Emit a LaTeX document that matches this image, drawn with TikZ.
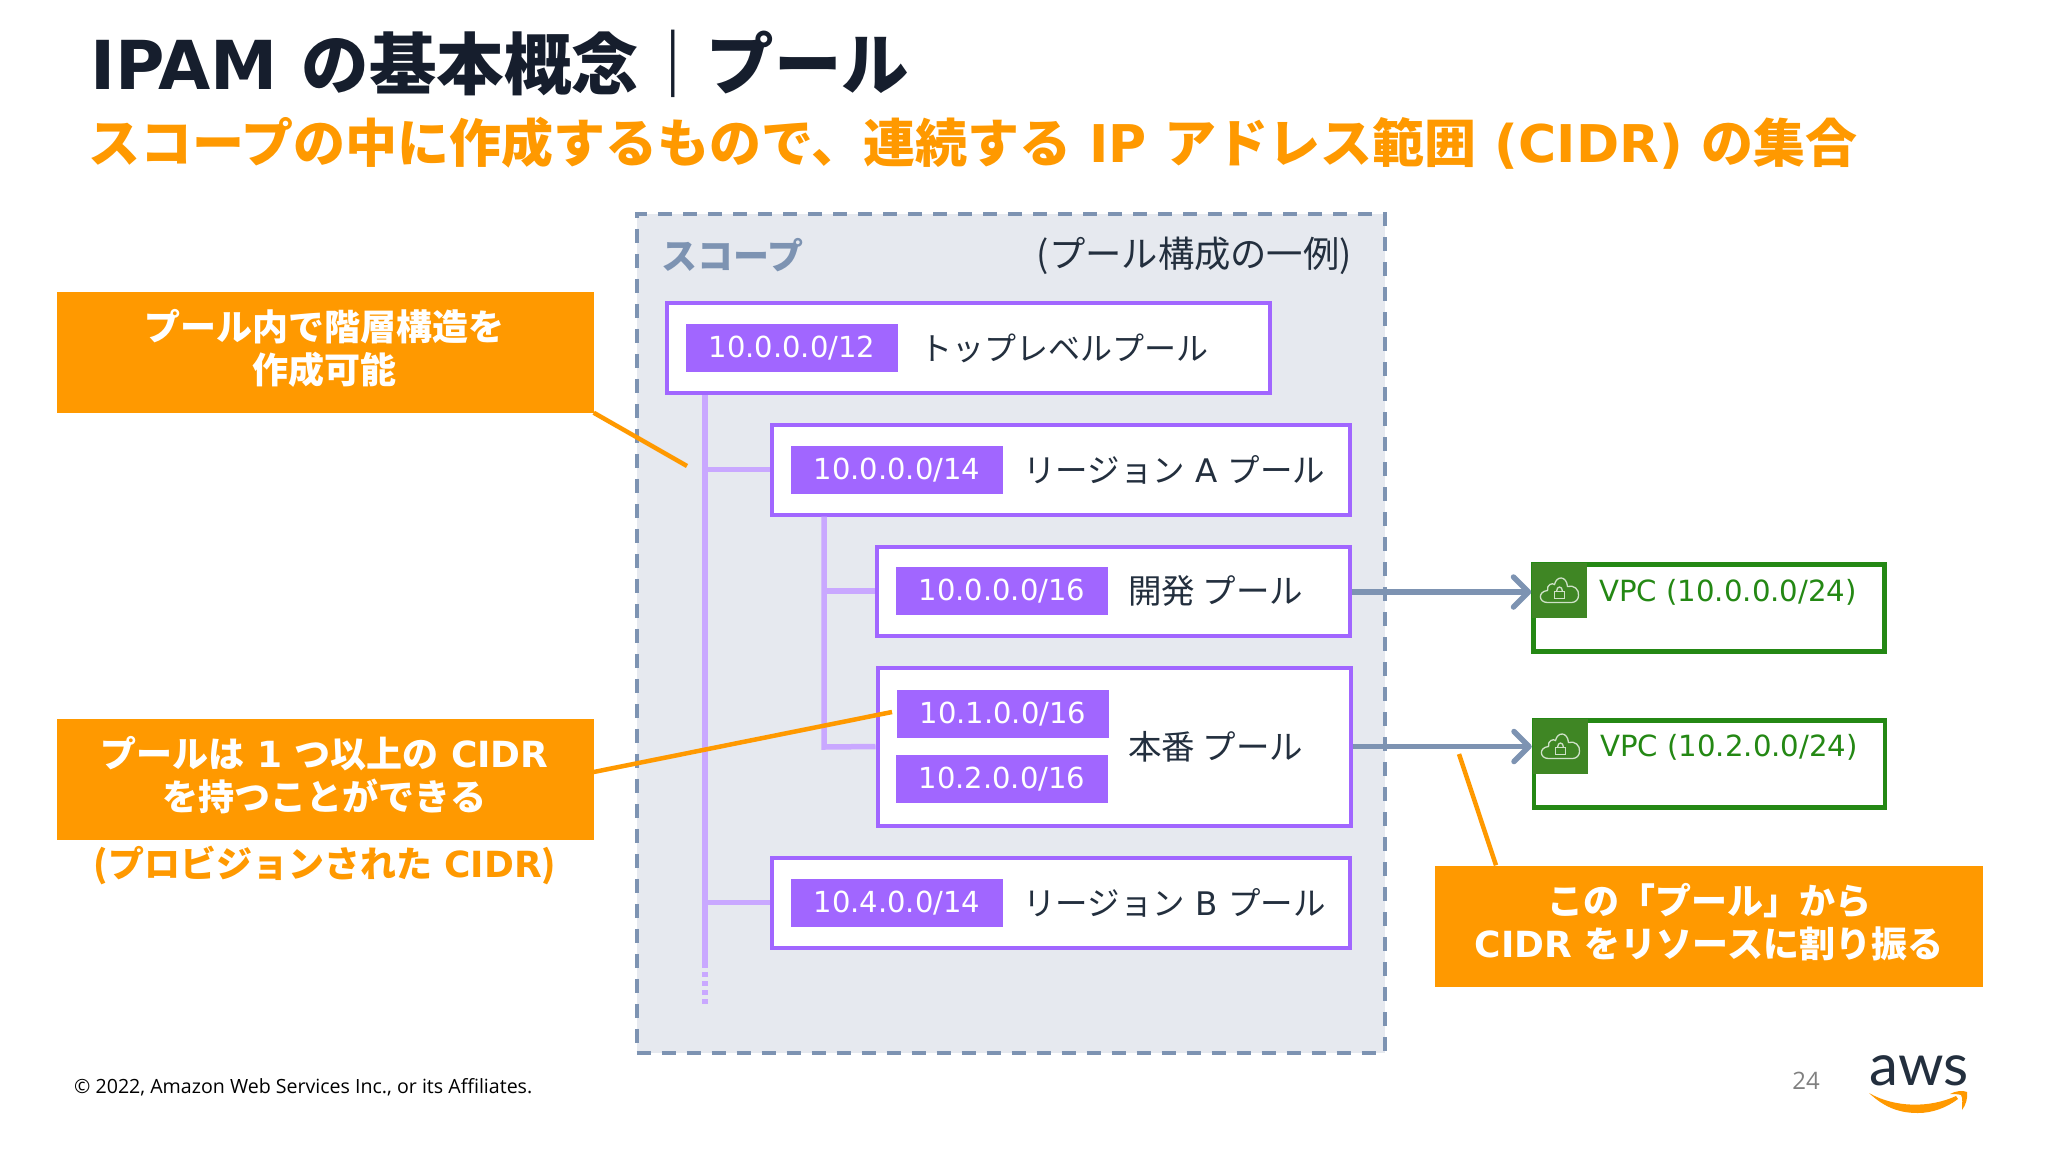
\documentclass[tikz,border=0pt]{standalone}
\usepackage{fontspec}
\usetikzlibrary{arrows.meta}
\setmainfont{DejaVu Sans}
\newfontfamily\jp{Noto Sans CJK JP}
\newfontfamily\foot{Open Sans}
\newfontfamily\logo{Lato}
\newcommand{\ja}[1]{{\jp #1}}

\definecolor{awsorange}{HTML}{FF9900}
\definecolor{awsdark}{HTML}{161E2D}
\definecolor{labeldark}{HTML}{232F3E}
\definecolor{poolline}{HTML}{A166FF}
\definecolor{treeline}{HTML}{C9A8FF}
\definecolor{scopefill}{HTML}{E6E9EF}
\definecolor{scopeline}{HTML}{7D93B2}
\definecolor{vpcgreen}{HTML}{248814}
\definecolor{vpcicon}{HTML}{3F8624}

\tikzset{
    scopebox/.style={rectangle, draw=scopeline, fill=scopefill, line width=4pt, dash pattern=on 14pt off 11pt, minimum width=748pt, minimum height=839pt, inner sep=0pt},
    pool/.style={rectangle, draw=poolline, fill=white, line width=4pt, inner sep=0pt},
    tag/.style={rectangle, fill=poolline, text=white, minimum width=212pt, minimum height=48pt, inner sep=0pt, font=\fontsize{29}{34}\selectfont},
    poollabel/.style={anchor=west, inner sep=0pt, text=labeldark, font=\fontsize{32.5}{36}\selectfont},
    tree/.style={draw=treeline, line width=5.5pt},
    link/.style={draw=scopeline, line width=5.5pt, -{Straight Barb[length=15pt, width=30pt, line width=5.5pt, round]}},
    vpc/.style={rectangle, draw=vpcgreen, fill=white, line width=4.5pt, minimum width=351pt, minimum height=87pt, inner sep=0pt},
    vpclabel/.style={anchor=west, inner sep=0pt, text=vpcgreen, font=\fontsize{29.2}{34}\selectfont},
    note/.style={rectangle, fill=awsorange, minimum height=121pt, inner sep=0pt},
    notetext/.style={inner sep=0pt, text=white, align=center, font=\fontsize{36}{43}\selectfont\bfseries},
    pointer/.style={draw=awsorange, line width=4.5pt},
    pics/cloudlock/.style={code={
        \fill[vpcicon] (-27.5,-27.5) rectangle (27.5,27.5);
        \draw[white!75!vpcicon, line width=1.3pt] (-12,12) .. controls (-21,12) and (-22,1) .. (-12,0) .. controls (-13,-6) and (-7,-8) .. (-5,-6) .. controls (-3,-15) and (7,-15) .. (8,-4) .. controls (14,-6) and (20,-1) .. (19,5) .. controls (19,9) and (16,12) .. (12,12) -- cycle;
        \draw[white!75!vpcicon, line width=1.3pt] (-5,1) rectangle (5,8);
        \draw[white!75!vpcicon, line width=1.3pt] (-3,1) .. controls (-3,-5) and (3,-5) .. (3,1);
    }}
}

\begin{document}
\begin{tikzpicture}[x=1pt, y=-1pt]
    \useasboundingbox (0,0) rectangle (2048,1152);

    % Heading
    \node[anchor=base west, inner sep=0pt, text=awsdark, font=\fontsize{67.5}{70}\selectfont\bfseries] (heading) at (90,89) {IPAM \ja{の基本概念｜プール}};
    \node[anchor=base west, inner sep=0pt, text=awsorange, font=\fontsize{52}{54}\selectfont\bfseries] (subheading) at (88,162) {\ja{スコープの中に作成するもので、連続する} IP \ja{アドレス範囲} (CIDR) \ja{の集合}};

    % Scope
    \node[scopebox] (scope) at (1010.5,633) {};
    \node[anchor=west, inner sep=0pt, text=scopeline, font=\fontsize{36}{40}\selectfont\bfseries] (scopename) at (661,255) {\ja{スコープ}};
    \node[anchor=east, inner sep=0pt, text=labeldark, font=\fontsize{36.3}{40}\selectfont] (example) at (1352,256) {\ja{(プール構成の一例)}};

    % Pools
    \node[pool, minimum width=603pt, minimum height=90pt] (poolTop) at (968,347.5) {};
    \node[pool, minimum width=578pt, minimum height=90pt] (poolA) at (1060.5,469.5) {};
    \node[pool, minimum width=473pt, minimum height=89pt] (poolDev) at (1113,591) {};
    \node[pool, minimum width=473pt, minimum height=158pt] (poolProd) at (1114,746.5) {};
    \node[pool, minimum width=578pt, minimum height=90pt] (poolB) at (1061,902.5) {};

    \node[tag] (tagTop) at (792,348) {10.0.0.0/12};
    \node[tag] (tagA) at (897,470) {10.0.0.0/14};
    \node[tag] (tagDev) at (1002,591) {10.0.0.0/16};
    \node[tag] (tagProdOne) at (1003,714) {10.1.0.0/16};
    \node[tag] (tagProdTwo) at (1002,779) {10.2.0.0/16};
    \node[tag] (tagB) at (897,903) {10.4.0.0/14};

    \node[poollabel, font=\fontsize{32}{36}\selectfont] (labelTop) at (920,348) {\ja{トップレベルプール}};
    \node[poollabel] (labelA) at (1023,470) {\ja{リージョン} A \ja{プール}};
    \node[poollabel, font=\fontsize{33.5}{36}\selectfont] (labelDev) at (1128,591) {\ja{開発 プール}};
    \node[poollabel, font=\fontsize{33.5}{36}\selectfont] (labelProd) at (1128,747) {\ja{本番 プール}};
    \node[poollabel] (labelB) at (1023,903) {\ja{リージョン} B \ja{プール}};

    % Tree
    \coordinate (trunkEnd) at (705,963);
    \coordinate (trunkDots) at (705,1007);
    \coordinate (subEnd) at (824,747);
    \draw[tree] (poolTop.south -| trunkEnd) -- (trunkEnd);
    \draw[tree, dash pattern=on 5pt off 4pt] (trunkEnd) -- (trunkDots);
    \draw[tree] (poolA.west -| trunkEnd) -- (poolA.west);
    \draw[tree] (poolB.west -| trunkEnd) -- (poolB.west);
    \draw[tree] (poolA.south -| subEnd) -- (subEnd) -- (poolProd.west);
    \draw[tree] (poolDev.west -| subEnd) -- (poolDev.west);

    % VPCs
    \node[vpc] (vpcDev) at (1709,608) {};
    \node[vpc] (vpcProd) at (1709.5,764) {};
    \pic at (1559.5,590.5) {cloudlock};
    \pic at (1560.5,746.5) {cloudlock};
    \node[vpclabel] (labelVpcDev) at (1599,592) {VPC (10.0.0.0/24)};
    \node[vpclabel] (labelVpcProd) at (1600,747) {VPC (10.2.0.0/24)};

    \draw[link] (poolDev.east |- labelVpcDev) -- (vpcDev.west |- labelVpcDev);
    \draw[link] (poolProd.east) -- (vpcProd.west |- poolProd.east);

    % Notes
    \node[note, minimum width=537pt] (noteA) at (325,352) {};
    \node[note, minimum width=537pt] (noteB) at (325,779) {};
    \node[note, minimum width=548pt] (noteC) at (1709,926) {};
    \node[notetext] (noteAText) at (324.5,348) {\ja{プール内で階層構造を}\\\ja{作成可能}};
    \node[notetext] (noteBText) at (324.5,775) {\ja{プールは} 1 \ja{つ以上の} CIDR\\\ja{を持つことができる}};
    \node[notetext] (noteCText) at (1709,922) {\ja{この「プール」から}\\CIDR \ja{をリソースに割り振る}};
    \node[inner sep=0pt, text=awsorange, font=\fontsize{36}{40}\selectfont\bfseries] (provisioned) at (325,865) {\ja{(プロビジョンされた} CIDR\ja{)}};

    \coordinate (pointA) at (687,466);
    \coordinate (pointB) at (892,712);
    \coordinate (pointC) at (1459,754);
    \draw[pointer] (noteA.south east) -- (pointA);
    \draw[pointer] ([yshift=7pt]noteB.east) -- (pointB);
    \draw[pointer] ([xshift=-213pt]noteC.north) -- (pointC);

    % Footer
    \node[anchor=west, inner sep=0pt, text=black, font=\foot\fontsize{19.6}{22}\selectfont] (copyright) at (74,1087) {© 2022, Amazon Web Services Inc., or its Affiliates.};
    \node[inner sep=0pt, text=gray, font=\foot\fontsize{24}{28}\selectfont] (pagenum) at (1806,1081) {24};
    \node[anchor=base, inner sep=0pt, text=labeldark, font=\logo\fontsize{58}{60}\selectfont] (awsname) at (1919,1085) {aws};
    \fill[awsorange] (1869,1093) .. controls (1885,1108) and (1900,1113) .. (1918,1113) .. controls (1932,1113) and (1946,1108) .. (1958,1099) -- (1956,1096) .. controls (1930,1108) and (1895,1108) .. cycle;
    \fill[awsorange] (1950,1094) .. controls (1955,1091) and (1963,1090) .. (1967,1092) .. controls (1968,1097) and (1966,1105) .. (1962,1110) .. controls (1962,1104) and (1963,1098) .. (1961,1095) .. controls (1958,1094) and (1954,1094) .. cycle;
\end{tikzpicture}
\end{document}
